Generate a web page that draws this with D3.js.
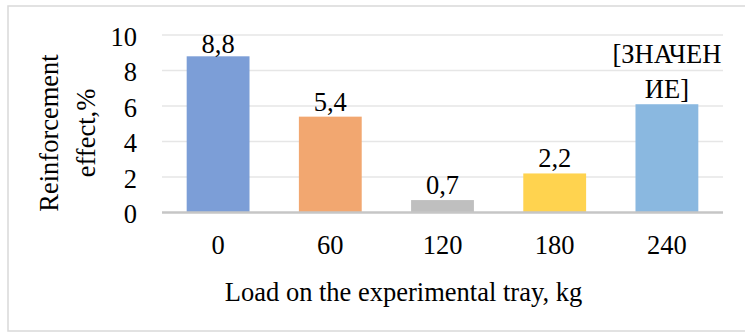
<!DOCTYPE html>
<html>
<head>
<meta charset="utf-8">
<script src="https://cdn.jsdelivr.net/npm/d3@7"></script>
<style>
  body { margin: 0; background: #fff; }
</style>
</head>
<body>
<div id="chart"></div>
<script>
// Data
const loads = ["0", "60", "120", "180", "240"];
const effects = [8.8, 5.4, 0.7, 2.2, 6.1];
const valueLabels = [["8,8"], ["5,4"], ["0,7"], ["2,2"], ["[ЗНАЧЕН", "ИЕ]"]];
const barColors = ["#7c9ed7", "#f2a770", "#bfbfbf", "#ffd34f", "#8ab8e0"];
const yTicks = [0, 2, 4, 6, 8, 10];

const width = 745, height = 334;
const fontSize = 26.5;
const fontFamily = "'Liberation Serif', Tinos, 'Times New Roman', Times, 'DejaVu Serif', serif";
const plot = { left: 162, right: 723, top: 35, bottom: 212.5 };

const svg = d3.select("#chart")
  .append("svg")
  .attr("width", width)
  .attr("height", height)
  .attr("font-family", fontFamily)
  .attr("font-size", fontSize);

// Outer chart border (right edge runs off the picture)
svg.append("rect")
  .attr("x", 8)
  .attr("y", 6)
  .attr("width", 750)
  .attr("height", 325)
  .attr("fill", "none")
  .attr("stroke", "#d9d9d9")
  .attr("stroke-width", 1.5);

const x = d3.scaleBand()
  .domain(loads)
  .range([plot.left, plot.right])
  .paddingInner(0.44)
  .paddingOuter(0.22);

const y = d3.scaleLinear()
  .domain([0, 10])
  .range([plot.bottom, plot.top]);

// Gridlines
svg.append("g")
  .selectAll("line")
  .data(yTicks.filter((d) => d > 0))
  .enter()
  .append("line")
  .attr("x1", plot.left)
  .attr("x2", plot.right)
  .attr("y1", (d) => y(d))
  .attr("y2", (d) => y(d))
  .attr("stroke", "#e6e6e6")
  .attr("stroke-width", 1.5);

// Y tick labels
svg.append("g")
  .selectAll("text")
  .data(yTicks)
  .enter()
  .append("text")
  .attr("x", 137)
  .attr("y", (d) => y(d) + 1.5)
  .attr("dy", "0.34em")
  .attr("text-anchor", "end")
  .text((d) => d);

// Bars
svg.append("g")
  .selectAll("rect")
  .data(effects)
  .enter()
  .append("rect")
  .attr("x", (d, i) => x(loads[i]))
  .attr("width", x.bandwidth())
  .attr("y", (d) => y(d))
  .attr("height", (d) => y(0) - y(d))
  .attr("fill", (d, i) => barColors[i]);

// X axis line
svg.append("line")
  .attr("x1", plot.left)
  .attr("x2", plot.right)
  .attr("y1", plot.bottom)
  .attr("y2", plot.bottom)
  .attr("stroke", "#c6c6c6")
  .attr("stroke-width", 2.5);

// Data labels (kept inside the plot area at the top)
const lineGap = 35;
const labels = svg.append("g")
  .selectAll("text")
  .data(effects)
  .enter()
  .append("text")
  .attr("text-anchor", "middle");

labels.each(function (d, i) {
  const lines = valueLabels[i];
  const cx = x(loads[i]) + x.bandwidth() / 2;
  let base = y(d) - 6;
  const firstBase = Math.max(base - (lines.length - 1) * lineGap, plot.top + 18);
  base = firstBase + (lines.length - 1) * lineGap;
  d3.select(this)
    .selectAll("tspan")
    .data(lines)
    .enter()
    .append("tspan")
    .attr("x", cx)
    .attr("y", (t, j) => base - (lines.length - 1 - j) * lineGap)
    .text((t) => t);
});

// X tick labels
svg.append("g")
  .selectAll("text")
  .data(loads)
  .enter()
  .append("text")
  .attr("x", (d) => x(d) + x.bandwidth() / 2)
  .attr("y", 254)
  .attr("text-anchor", "middle")
  .text((d) => d);

// Axis titles
svg.append("text")
  .attr("x", 403.5)
  .attr("y", 301)
  .attr("text-anchor", "middle")
  .text("Load on the experimental tray, kg");

const yTitle = svg.append("text")
  .attr("transform", "translate(0,133) rotate(-90)")
  .attr("text-anchor", "middle");

yTitle.append("tspan").attr("x", 0).attr("y", 58).text("Reinforcement");
yTitle.append("tspan").attr("x", 0).attr("y", 95).text("effect,%");
</script>
</body>
</html>
